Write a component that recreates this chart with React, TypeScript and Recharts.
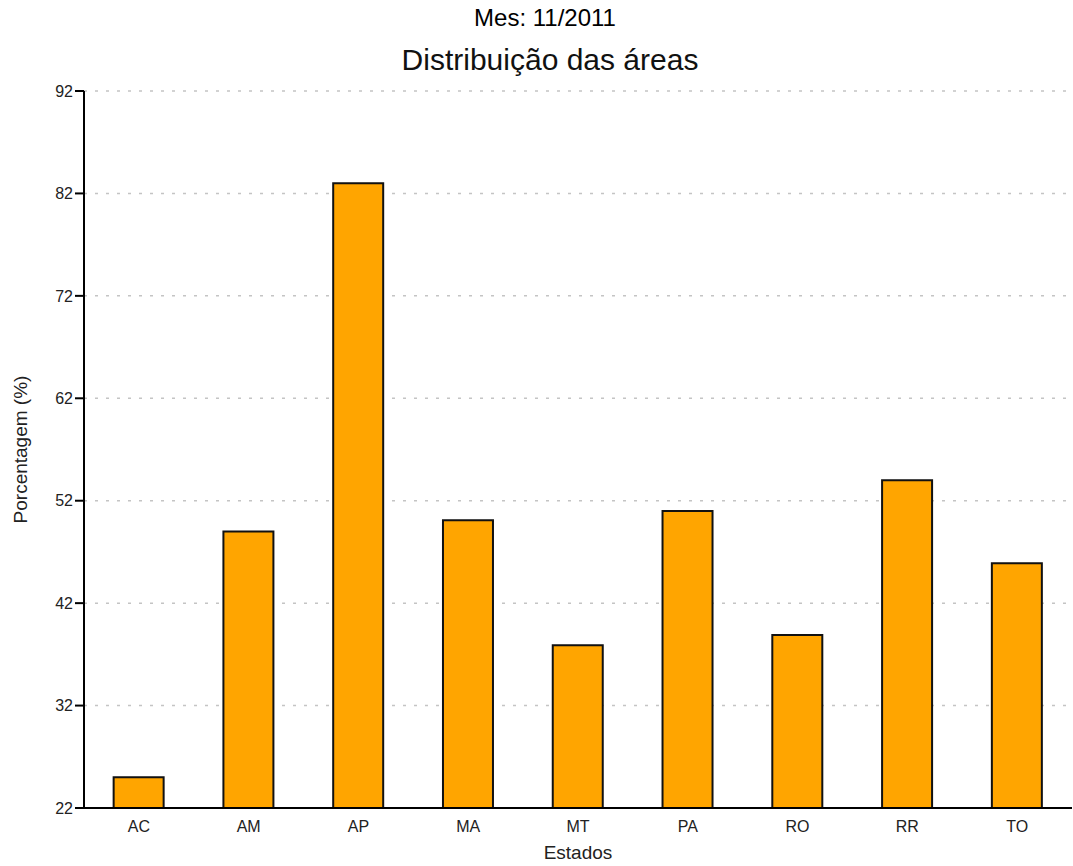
import { BarChart, Bar, XAxis, YAxis, CartesianGrid } from "recharts";

const estados = ["AC", "AM", "AP", "MA", "MT", "PA", "RO", "RR", "TO"];
const porcentagem = [25, 49, 83, 50.1, 37.9, 51, 38.9, 54, 45.9];
const yTicks = [22, 32, 42, 52, 62, 72, 82, 92];

const data = estados.map((e, i) => ({ estado: e, valor: porcentagem[i] }));

const font = "'Liberation Sans', Arial, sans-serif";

export default function App() {
  return (
    <div
      style={{
        position: "absolute",
        left: 0,
        top: 0,
        width: 1073,
        height: 866,
        background: "#fff",
        fontFamily: font,
      }}
    >
      <div
        style={{
          position: "absolute",
          top: 4,
          left: 0,
          width: 1090,
          textAlign: "center",
          fontSize: 24,
          color: "#000",
        }}
      >
        Mes: 11/2011
      </div>
      <div
        style={{
          position: "absolute",
          top: 43,
          left: 0,
          width: 1100,
          textAlign: "center",
          fontSize: 30,
          color: "#111",
        }}
      >
        Distribuição das áreas
      </div>
      <BarChart
        width={1073}
        height={866}
        data={data}
        margin={{ top: 91, right: 1, bottom: 0, left: 0 }}
        barCategoryGap="27%"
      >
        <CartesianGrid
          vertical={false}
          stroke="#c4c4c4"
          strokeDasharray="3 8"
          strokeWidth={1.5}
        />
        <XAxis
          dataKey="estado"
          height={58}
          tickLine={false}
          axisLine={{ stroke: "#000", strokeWidth: 2 }}
          tick={{ fill: "#222", fontSize: 16, fontFamily: font }}
          tickMargin={7}
          label={{
            value: "Estados",
            position: "insideBottom",
            offset: 7,
            fill: "#222",
            fontSize: 19,
            fontFamily: font,
          }}
        />
        <YAxis
          width={84}
          domain={[22, 92]}
          ticks={yTicks}
          interval={0}
          allowDataOverflow
          tickSize={9}
          tickLine={{ stroke: "#000", strokeWidth: 2 }}
          axisLine={{ stroke: "#000", strokeWidth: 2 }}
          tick={{ fill: "#222", fontSize: 16, fontFamily: font }}
          label={{
            value: "Porcentagem (%)",
            angle: -90,
            position: "insideLeft",
            offset: 20,
            fill: "#222",
            fontSize: 19,
            fontFamily: font,
            style: { textAnchor: "middle" },
          }}
        />
        <Bar
          dataKey="valor"
          fill="#FFA500"
          stroke="#111"
          strokeWidth={2}
          isAnimationActive={false}
        />
      </BarChart>
    </div>
  );
}
